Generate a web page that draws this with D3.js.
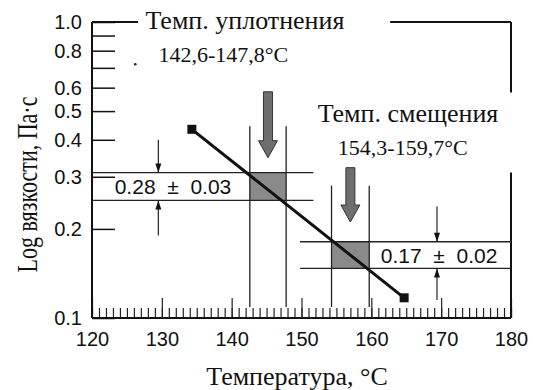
<!DOCTYPE html>
<html>
<head>
<meta charset="utf-8">
<script src="https://cdn.jsdelivr.net/npm/d3@7"></script>
<style>
    body { margin: 0; background: #fff; }
    .tick text { font-family: "Liberation Sans", Arial, sans-serif; font-size: 20px; fill: #111; }
    .serif { font-family: "Liberation Serif", "Times New Roman", serif; fill: #111; }
    .sans { font-family: "Liberation Sans", Arial, sans-serif; fill: #111; }
</style>
</head>
<body>
<div id="chart"></div>
<script>
// viscosity line (temperature, viscosity) - endpoints marked with squares
let lineTemps = [134.3, 164.7];
let lineVisc = [0.434, 0.117];

// y axis ticks
let yTickValues = [1.0, 0.9, 0.8, 0.7, 0.6, 0.5, 0.4, 0.3, 0.2, 0.1];
let yTickLabels = ["1.0", "", "0.8", "", "0.6", "0.5", "0.4", "0.3", "0.2", "0.1"];

// x axis ticks
let xMajorTicks = [120, 130, 140, 150, 160, 170, 180];
let xMinorTicks = d3.range(120, 181, 1);

// temperature windows: [from, to]
let compactionRange = [142.6, 147.8];
let shearRange = [154.3, 159.7];

// viscosity bands: [low, high]
let compactionBand = [0.2496, 0.31];
let shearBand = [0.147, 0.181];
let bandLabels = ["0.28\u00a0\u00a0\u00b1\u00a0\u00a00.03", "0.17\u00a0\u00a0\u00b1\u00a0\u00a00.02"];

// annotation texts
let titleLines1 = ["Темп. уплотнения", "142,6-147,8°C"];
let titleLines2 = ["Темп. смещения", "154,3-159,7°C"];

let margin = { top: 22, right: 22, bottom: 72, left: 92 };
let width = 533 - margin.left - margin.right,
    height = 390 - margin.top - margin.bottom;

let svg = d3.select("#chart").append("svg")
    .attr("width", 533)
    .attr("height", 390)
    .append("g")
    .attr("transform", "translate(" + margin.left + "," + margin.top + ")");

let x = d3.scaleLinear().domain([120, 180]).range([0, width]);
let y = d3.scaleLog().domain([0.1, 1.0]).range([height, 0]);

// Axes (ticks point inward)
let yAxis = d3.axisLeft(y)
    .tickValues(yTickValues)
    .tickFormat((d, i) => yTickLabels[i])
    .tickSizeInner(-23)
    .tickSizeOuter(0)
    .tickPadding(10);

svg.append("g")
    .attr("class", "y-axis")
    .call(yAxis)
    .call(g => g.select(".domain").remove())
    .call(g => g.selectAll(".tick line").attr("stroke", "#111").attr("stroke-width", 1.5));

svg.append("g")
    .attr("class", "x-minor")
    .attr("transform", "translate(0," + height + ")")
    .call(d3.axisBottom(x).tickValues(xMinorTicks).tickFormat("").tickSizeInner(-10).tickSizeOuter(0))
    .call(g => g.select(".domain").remove())
    .call(g => g.selectAll(".tick line").attr("stroke", "#222").attr("stroke-width", 1.2));

svg.append("g")
    .attr("class", "x-axis")
    .attr("transform", "translate(0," + height + ")")
    .call(d3.axisBottom(x).tickValues(xMajorTicks).tickFormat(d3.format("d")).tickSizeInner(-20).tickSizeOuter(0).tickPadding(14))
    .call(g => g.select(".domain").remove())
    .call(g => g.selectAll(".tick line").attr("stroke", "#222").attr("stroke-width", 1.2));

// frame (left and bottom full, top and right broken around the labels)
let frame = [
    [[120, 1.0], [120, 0.1]],
    [[120, 0.1], [180, 0.1]],
    [[120, 1.0], [126.6, 1.0]],
    [[162.7, 1.0], [180, 1.0]],
    [[180, 1.0], [180, 0.578]],
    [[180, 0.31], [180, 0.1]]
];
svg.selectAll(".frame")
    .data(frame)
    .enter().append("line")
    .attr("class", "frame")
    .attr("x1", d => x(d[0][0])).attr("y1", d => y(d[0][1]))
    .attr("x2", d => x(d[1][0])).attr("y2", d => y(d[1][1]))
    .attr("stroke", "#111")
    .attr("stroke-width", 2);

// shaded boxes
let boxes = [
    { t: compactionRange, v: compactionBand },
    { t: shearRange, v: shearBand }
];
svg.selectAll(".box")
    .data(boxes)
    .enter().append("rect")
    .attr("class", "box")
    .attr("x", d => x(d.t[0]))
    .attr("y", d => y(d.v[1]))
    .attr("width", d => x(d.t[1]) - x(d.t[0]))
    .attr("height", d => y(d.v[0]) - y(d.v[1]))
    .attr("fill", "#8a8a8a");

// band horizontal lines
let bandLines = [
    { v: compactionBand[1], from: 120, to: 151.7 },
    { v: compactionBand[0], from: 120, to: 151.7 },
    { v: shearBand[1], from: 149.8, to: 180 },
    { v: shearBand[0], from: 149.8, to: 180 }
];
svg.selectAll(".band-line")
    .data(bandLines)
    .enter().append("line")
    .attr("x1", d => x(d.from)).attr("x2", d => x(d.to))
    .attr("y1", d => y(d.v)).attr("y2", d => y(d.v))
    .attr("stroke", "#222")
    .attr("stroke-width", 1.3);

// temperature vertical lines
let vLines = [
    { t: compactionRange[0], top: 0.444 },
    { t: compactionRange[1], top: 0.444 },
    { t: shearRange[0], top: 0.28 },
    { t: shearRange[1], top: 0.28 }
];
svg.selectAll(".v-line")
    .data(vLines)
    .enter().append("line")
    .attr("x1", d => x(d.t)).attr("x2", d => x(d.t))
    .attr("y1", d => y(d.top)).attr("y2", y(0.109))
    .attr("stroke", "#222")
    .attr("stroke-width", 1.3);

// viscosity line
let lineData = lineTemps.map((t, i) => ({ t: t, v: lineVisc[i] }));
svg.append("path")
    .datum(lineData)
    .attr("fill", "none")
    .attr("stroke", "#111")
    .attr("stroke-width", 3)
    .attr("d", d3.line().x(d => x(d.t)).y(d => y(d.v)));

svg.selectAll(".marker")
    .data(lineData)
    .enter().append("rect")
    .attr("x", d => x(d.t) - 4.5)
    .attr("y", d => y(d.v) - 4.5)
    .attr("width", 9)
    .attr("height", 9)
    .attr("fill", "#111");

// big gray arrows
let bigArrows = [
    { t: d3.mean(compactionRange), from: 0.581, to: 0.348 },
    { t: d3.mean(shearRange), from: 0.322, to: 0.211 }
];
svg.selectAll(".big-arrow")
    .data(bigArrows)
    .enter().append("path")
    .attr("fill", "#6e6e6e")
    .attr("stroke", "#333")
    .attr("stroke-width", 1)
    .attr("d", d => {
        let cx = x(d.t), y0 = y(d.from), y1 = y(d.to);
        let head = 17;
        return "M" + (cx - 4.5) + "," + y0 + "L" + (cx + 4.5) + "," + y0 +
            "L" + (cx + 4.5) + "," + (y1 - head) + "L" + (cx + 9.5) + "," + (y1 - head) +
            "L" + cx + "," + y1 + "L" + (cx - 9.5) + "," + (y1 - head) +
            "L" + (cx - 4.5) + "," + (y1 - head) + "Z";
    });

// small thin arrows pointing at band edges
let smallArrows = [
    { t: 129.5, from: 0.40, to: compactionBand[1] },
    { t: 129.5, from: 0.19, to: compactionBand[0] },
    { t: 169.4, from: 0.238, to: shearBand[1] },
    { t: 169.4, from: 0.115, to: shearBand[0] }
];
let smallG = svg.selectAll(".small-arrow")
    .data(smallArrows)
    .enter().append("g");
smallG.append("line")
    .attr("x1", d => x(d.t)).attr("x2", d => x(d.t))
    .attr("y1", d => y(d.from)).attr("y2", d => y(d.to))
    .attr("stroke", "#222")
    .attr("stroke-width", 1.2);
smallG.append("path")
    .attr("fill", "#111")
    .attr("d", d => {
        let cx = x(d.t), yt = y(d.to);
        let dir = y(d.from) < yt ? -1 : 1;
        return "M" + cx + "," + yt + "L" + (cx - 3) + "," + (yt + dir * 9) + "L" + (cx + 3) + "," + (yt + dir * 9) + "Z";
    });

// band value labels
svg.selectAll(".band-label")
    .data([
        { t: 131.6, v: Math.sqrt(compactionBand[0] * compactionBand[1]), text: bandLabels[0] },
        { t: 169.7, v: Math.sqrt(shearBand[0] * shearBand[1]), text: bandLabels[1] }
    ])
    .enter().append("text")
    .attr("class", "sans")
    .attr("x", d => x(d.t))
    .attr("y", d => y(d.v))
    .attr("dy", "0.36em")
    .attr("text-anchor", "middle")
    .attr("font-size", 21)
    .text(d => d.text);

// annotation titles
let titles = [
    { t: 141.9, v: 0.947, text: titleLines1[0], size: 26 },
    { t: 138.8, v: 0.734, text: titleLines1[1], size: 22 },
    { t: 165.25, v: 0.46, text: titleLines2[0], size: 26 },
    { t: 164.5, v: 0.356, text: titleLines2[1], size: 22 }
];
svg.selectAll(".title")
    .data(titles)
    .enter().append("text")
    .attr("class", "serif")
    .attr("x", d => x(d.t))
    .attr("y", d => y(d.v))
    .attr("text-anchor", "middle")
    .attr("font-size", d => d.size)
    .text(d => d.text);

// stray dot in the scan
svg.append("circle")
    .attr("cx", x(126.2))
    .attr("cy", y(0.72))
    .attr("r", 1.3)
    .attr("fill", "#222");

// axis titles
svg.append("text")
    .attr("class", "serif")
    .attr("x", 297 - margin.left)
    .attr("y", 385 - margin.top)
    .attr("text-anchor", "middle")
    .attr("font-size", 26)
    .text("Температура, °C");

svg.append("text")
    .attr("class", "serif")
    .attr("transform", "translate(" + (37 - margin.left) + "," + (184.5 - margin.top) + ") rotate(-90) scale(1,1.35)")
    .attr("text-anchor", "middle")
    .attr("font-size", 22)
    .text("Log вязкости, Па·с");
</script>
</body>
</html>
